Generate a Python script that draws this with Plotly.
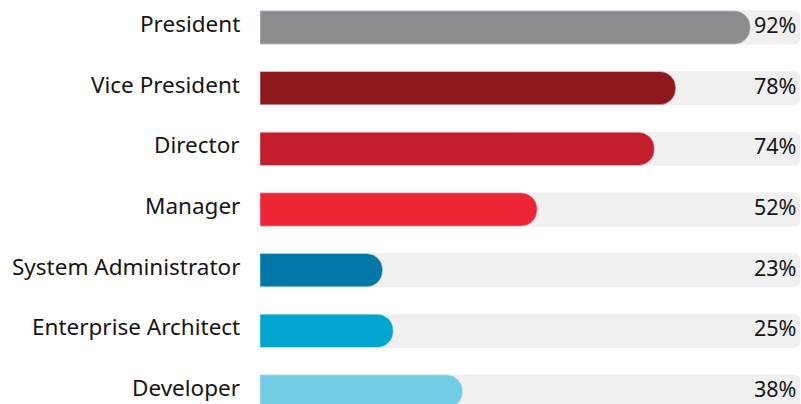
import plotly.graph_objects as go

categories = ["President", "Vice President", "Director", "Manager",
              "System Administrator", "Enterprise Architect", "Developer"]
values = [92, 78, 74, 52, 23, 25, 38]
colors = ["#8a8c8f", "#8e191c", "#c41e2d", "#ee2535", "#0077a4", "#00a6d0", "#72cde4"]
value_labels = [f"{v}%" for v in values]
TRACK = 101.3

fig = go.Figure()
fig.add_trace(go.Bar(
    y=categories, x=[TRACK] * len(categories), orientation="h",
    marker=dict(color="#f0f0f0", cornerradius=6), width=0.55,
    hoverinfo="skip", showlegend=False, yaxis="y",
))
fig.add_trace(go.Bar(
    y=categories, x=values, orientation="h",
    marker=dict(color=colors, cornerradius=16), width=0.55,
    showlegend=False, yaxis="y2",
))
for c, t in zip(categories, value_labels):
    # category label on the left
    fig.add_annotation(x=0, xref="paper", y=c, yref="y", text=c,
                       xanchor="right", yanchor="middle", showarrow=False,
                       xshift=-18, yshift=4, font=dict(size=22.5, color="#151515"))
    # value label on the right
    fig.add_annotation(x=1, xref="paper", y=c, yref="y", text=t,
                       xanchor="right", yanchor="middle", showarrow=False,
                       xshift=-3, yshift=3, font=dict(size=21.5, color="#151515"))

yrange = [-0.206, 6.453]
fig.update_layout(
    width=801, height=404, barmode="group",
    margin=dict(l=260, r=0, t=0, b=0),
    plot_bgcolor="white", paper_bgcolor="white",
    font=dict(family="Noto Sans", size=21, color="#151515"),
    xaxis=dict(range=[0, 101.5], visible=False, fixedrange=True),
    yaxis=dict(categoryorder="array", categoryarray=categories[::-1],
               range=yrange, showgrid=False, zeroline=False, showticklabels=False,
               ticks="", showline=False, fixedrange=True),
    yaxis2=dict(categoryorder="array", categoryarray=categories[::-1],
                range=yrange, overlaying="y", visible=False, fixedrange=True),
)
fig.write_html("out.html", config={"displayModeBar": False},
               post_script="document.body.style.margin='0';document.body.style.overflow='hidden';")
